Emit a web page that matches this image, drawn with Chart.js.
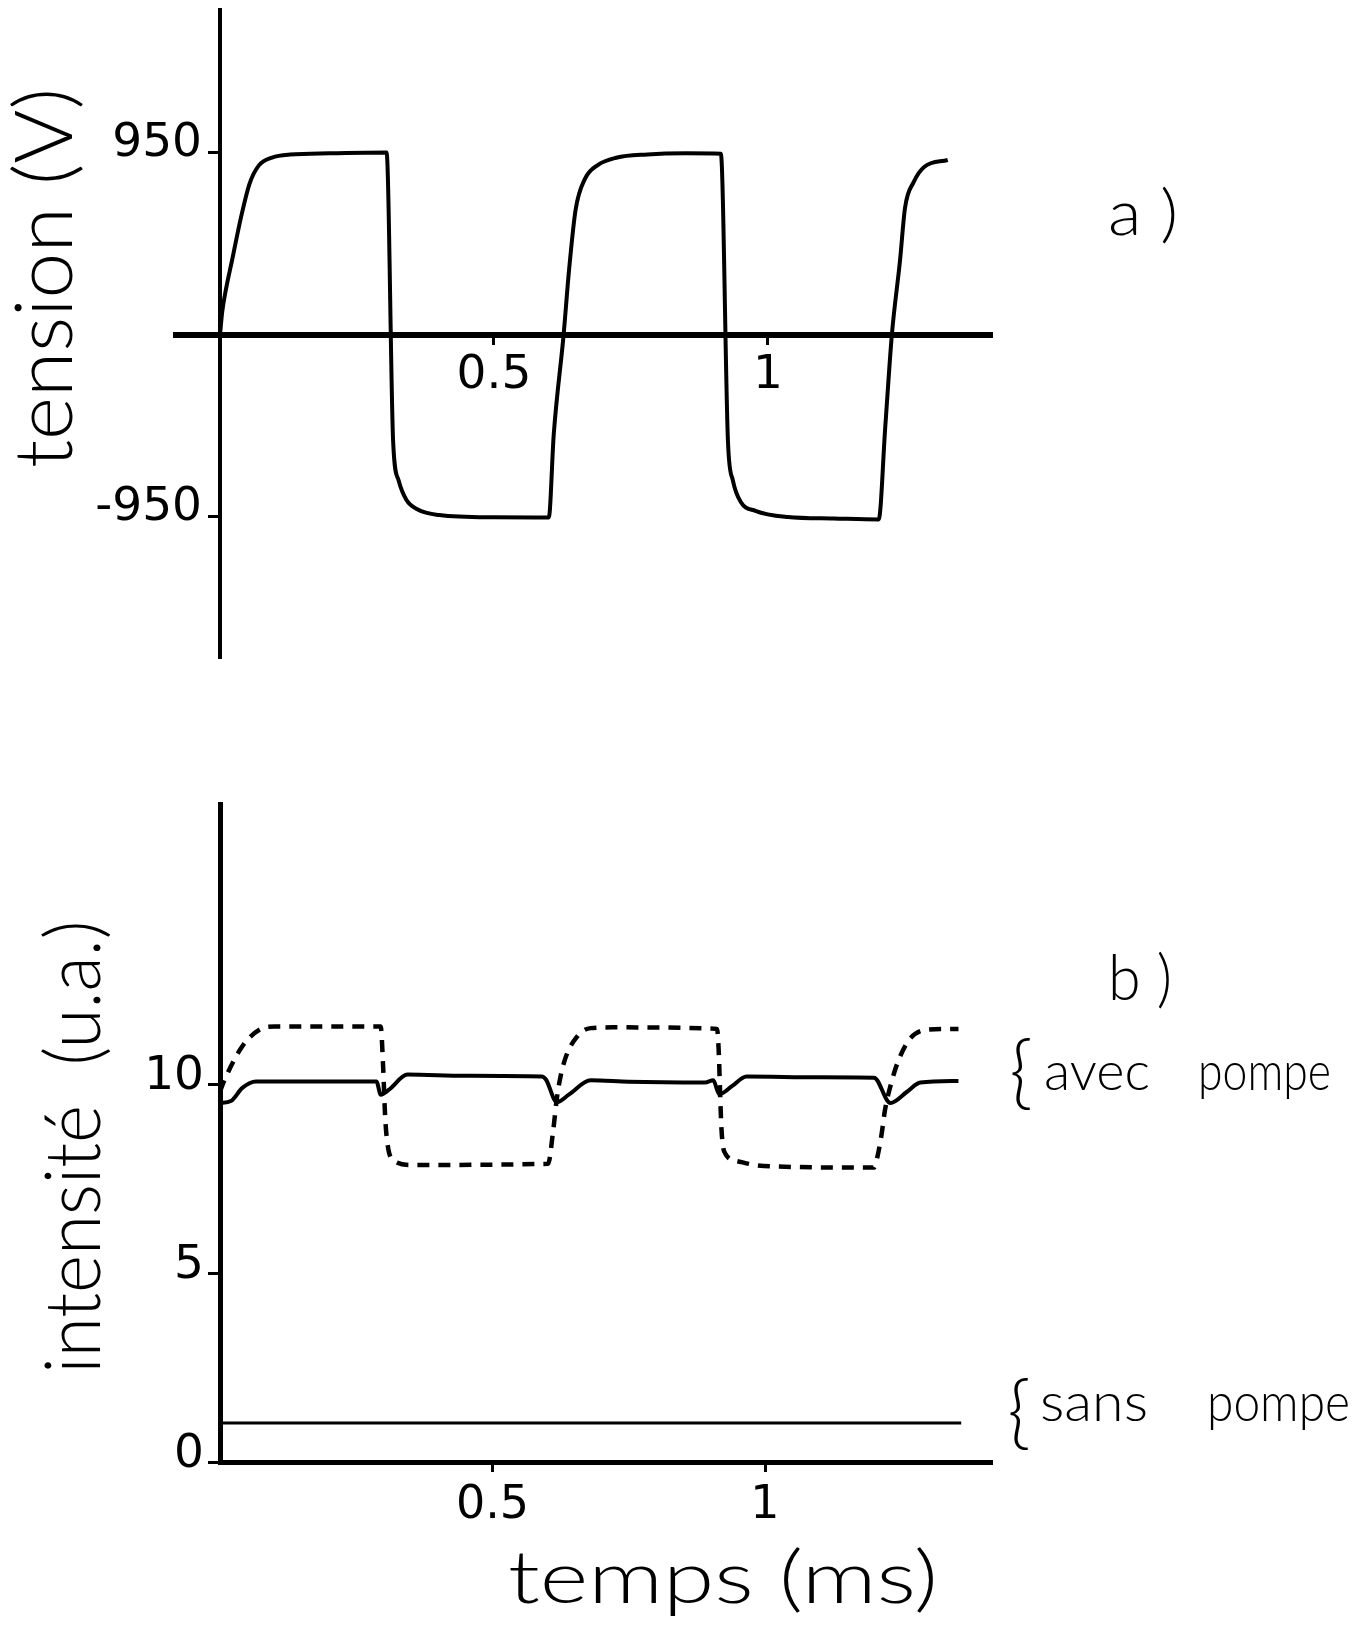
<!DOCTYPE html>
<html>
<head>
<meta charset="utf-8">
<script src="https://cdn.jsdelivr.net/npm/chart.js@4.4.1/dist/chart.umd.min.js"></script>
<style>
  html, body { margin: 0; padding: 0; background: #fff; }
  #page { position: relative; width: 1371px; height: 1626px; background: #fff; overflow: hidden; }
  canvas { position: absolute; left: 0; }
  #grapheA { top: 0; }
  #grapheB { top: 740px; }
</style>
</head>
<body>
<div id="page">
  <canvas id="grapheA" width="1371" height="740"></canvas>
  <canvas id="grapheB" width="1371" height="886"></canvas>
</div>
<script>
// a) tension (V) en fonction du temps (ms)
const tempsA = [0, 0.004, 0.011, 0.022, 0.038, 0.054, 0.071, 0.095, 0.128, 0.2, 0.304,
  0.316, 0.326, 0.34, 0.36, 0.4, 0.5, 0.6,
  0.609, 0.627, 0.637, 0.649, 0.666, 0.69, 0.723, 0.78, 0.85, 0.914,
  0.927, 0.936, 0.95, 0.977, 1.036, 1.12, 1.202,
  1.214, 1.226, 1.241, 1.25, 1.266, 1.285, 1.328];
const tension = [0, 120, 240, 390, 610, 790, 885, 926, 942, 948, 952,
  -560, -760, -860, -910, -940, -952, -953,
  -520, 0, 340, 655, 815, 888, 925, 942, 948, 946,
  -560, -760, -870, -918, -950, -958, -963,
  -480, 0, 391, 663, 799, 877, 913];
const bornesTemps = [-0.0858, 1.4106];
const zeroTension = [0, 0];
const graduationsTension = [-950, 950];
const graduationsTemps = [0.5, 1];

// b) intensité (u.a.) avec et sans pompe
const tempsTrait = [0, 0.02, 0.041, 0.066, 0.2, 0.287, 0.295, 0.31, 0.344, 0.45, 0.59,
  0.598, 0.618, 0.64, 0.68, 0.75, 0.89, 0.905, 0.916, 0.94, 0.966, 1.1, 1.2,
  1.23, 1.26, 1.285, 1.355];
const avecPompeTrait = [9.5, 9.55, 9.9, 10.07, 10.07, 10.07, 9.72, 9.85, 10.25, 10.22, 10.2,
  10.12, 9.52, 9.72, 10.1, 10.06, 10.04, 10.1, 9.73, 9.95, 10.2, 10.18, 10.17,
  9.5, 9.79, 10.04, 10.08];
const tempsTirets = [0, 0.008, 0.041, 0.074, 0.1, 0.295, 0.299, 0.303, 0.307, 0.32, 0.352,
  0.602, 0.611, 0.619, 0.631, 0.656, 0.68, 0.72, 0.912, 0.915, 0.918, 0.92, 0.925,
  0.949, 0.998, 1.2, 1.206, 1.214, 1.22, 1.233, 1.245, 1.266, 1.3, 1.355];
const avecPompeTirets = [9.8, 10.1, 11.0, 11.45, 11.52, 11.52, 10.56, 9.15, 8.45, 7.96, 7.86,
  7.89, 8.73, 9.72, 10.56, 11.27, 11.48, 11.5, 11.46, 10.9, 9.6, 8.84, 8.22,
  7.96, 7.83, 7.79, 8.06, 8.68, 9.3, 10.1, 10.63, 11.2, 11.44, 11.46];
const tempsSans = [0, 1.36];
const sansPompe = [1.03, 1.03];
const graduationsIntensite = [0, 5, 10];

const points = (xs, ys) => xs.map((x, i) => ({ x: x, y: ys[i] }));

// textes libres (titres, repères a) b), accolades) en coordonnées de la page ;
// "longueur" étire le texte dans le sens de la lecture pour couvrir la largeur voulue
const textes = {
  id: "textes",
  afterDraw(chart, args, opts) {
    const ctx = chart.ctx;
    const dy = chart.canvas.offsetTop;
    opts.items.forEach((it) => {
      const famille = it.famille || "Lato";
      const poids = it.poids || 300;
      const taille = it.taille || 60;
      ctx.save();
      ctx.font = `${poids} ${taille}px ${famille}`;
      const etirement = it.longueur ? it.longueur / ctx.measureText(it.texte).width : 1;
      ctx.fillStyle = "#000";
      ctx.textAlign = it.align || "left";
      ctx.textBaseline = it.base || "alphabetic";
      ctx.translate(it.x, it.y - dy);
      if (it.rot) ctx.rotate((it.rot * Math.PI) / 180);
      ctx.scale(etirement, 1);
      ctx.fillText(it.texte, 0, 0);
      ctx.restore();
    });
  },
};

const policeGrad = (taille) => ({ family: "'DejaVu Sans'", size: taille });
const fixerGraduations = (valeurs) => (axe) => {
  axe.ticks = valeurs.map((v) => ({ value: v }));
};
// pas de marge réservée pour les étiquettes aux extrémités des axes
const sansMarge = (s) => {
  s.paddingTop = 0;
  s.paddingBottom = 0;
  s.paddingLeft = 0;
  s.paddingRight = 0;
};
const etiquette = (v) => String(v);

new Chart(document.getElementById("grapheA"), {
  type: "line",
  data: {
    datasets: [
      {
        data: points(tempsA, tension),
        borderColor: "#000",
        borderWidth: 4,
        pointRadius: 0,
        cubicInterpolationMode: "monotone",
      },
      {
        // axe des temps, qui dépasse à gauche de l'axe des tensions
        data: points(bornesTemps, zeroTension),
        borderColor: "#000",
        borderWidth: 6,
        pointRadius: 0,
        clip: false,
      },
    ],
  },
  options: {
    responsive: false,
    animation: false,
    devicePixelRatio: 1,
    layout: { padding: { left: 0, right: 378, top: 10, bottom: 82 } },
    plugins: {
      legend: { display: false },
      tooltip: { enabled: false },
      textes: {
        items: [
          { texte: "tension (V)", x: 72, y: 278, rot: -90, align: "center", taille: 80, longueur: 380 },
          { texte: "a )", x: 1108, y: 235, taille: 64, longueur: 70 },
        ],
      },
    },
    scales: {
      x: {
        type: "linear",
        min: 0,
        max: 1.4106,
        position: { y: 0 },
        afterFit: sansMarge,
        afterBuildTicks: fixerGraduations(graduationsTemps),
        ticks: { autoSkip: false, maxRotation: 0, color: "#000", font: policeGrad(47), padding: 3, callback: etiquette },
        grid: { drawOnChartArea: false, tickLength: 10, tickWidth: 3, tickColor: "#000" },
        border: { display: false },
      },
      y: {
        type: "linear",
        min: -1686,
        max: 1696,
        position: "left",
        afterFit: (s) => { sansMarge(s); s.width = 220; },
        afterBuildTicks: fixerGraduations(graduationsTension),
        ticks: { autoSkip: false, color: "#000", font: policeGrad(47), padding: 6, labelOffset: -9, callback: etiquette },
        grid: { drawOnChartArea: false, tickLength: 12, tickWidth: 3, tickColor: "#000" },
        border: { display: true, color: "#000", width: 4 },
      },
    },
  },
  plugins: [textes],
});

new Chart(document.getElementById("grapheB"), {
  type: "line",
  data: {
    datasets: [
      {
        label: "avec pompe",
        data: points(tempsTrait, avecPompeTrait),
        borderColor: "#000",
        borderWidth: 4,
        pointRadius: 0,
        cubicInterpolationMode: "monotone",
      },
      {
        label: "avec pompe (tirets)",
        data: points(tempsTirets, avecPompeTirets),
        borderColor: "#000",
        borderWidth: 4.5,
        borderDash: [12, 9],
        pointRadius: 0,
        cubicInterpolationMode: "monotone",
      },
      {
        label: "sans pompe",
        data: points(tempsSans, sansPompe),
        borderColor: "#000",
        borderWidth: 3,
        pointRadius: 0,
      },
    ],
  },
  options: {
    responsive: false,
    animation: false,
    devicePixelRatio: 1,
    layout: { padding: { left: 0, right: 379, top: 64, bottom: 0 } },
    plugins: {
      legend: { display: false },
      tooltip: { enabled: false },
      textes: {
        items: [
          { texte: "intensité  (u.a.)", x: 100, y: 1147, rot: -90, align: "center", taille: 76, longueur: 453 },
          { texte: "b )", x: 1108, y: 1000, taille: 64, longueur: 64 },
          { texte: "temps (ms)", x: 508, y: 1603, taille: 72, longueur: 430 },
          { texte: "{", x: 1021, y: 1073, align: "center", base: "middle", taille: 80 },
          { texte: "avec", x: 1044, y: 1090, taille: 54, longueur: 106 },
          { texte: "pompe", x: 1198, y: 1090, taille: 54, longueur: 133 },
          { texte: "{", x: 1019, y: 1413, align: "center", base: "middle", taille: 80 },
          { texte: "sans", x: 1040, y: 1421, taille: 54, longueur: 108 },
          { texte: "pompe", x: 1207, y: 1421, taille: 54, longueur: 143 },
        ],
      },
    },
    scales: {
      x: {
        type: "linear",
        min: 0,
        max: 1.4165,
        position: "bottom",
        afterFit: (s) => { sansMarge(s); s.height = 164; },
        afterBuildTicks: fixerGraduations(graduationsTemps),
        ticks: { autoSkip: false, maxRotation: 0, color: "#000", font: policeGrad(46), padding: 6, callback: etiquette },
        grid: { drawOnChartArea: false, tickLength: 10, tickWidth: 3, tickColor: "#000" },
        border: { display: true, color: "#000", width: 5 },
      },
      y: {
        type: "linear",
        min: 0,
        max: 17.41,
        position: "left",
        afterFit: (s) => { sansMarge(s); s.width = 220; },
        afterBuildTicks: fixerGraduations(graduationsIntensite),
        ticks: { autoSkip: false, color: "#000", font: policeGrad(47), padding: 4, labelOffset: -7, callback: etiquette },
        grid: { drawOnChartArea: false, tickLength: 12, tickWidth: 3, tickColor: "#000" },
        border: { display: true, color: "#000", width: 5 },
      },
    },
  },
  plugins: [textes],
});
</script>
</body>
</html>
